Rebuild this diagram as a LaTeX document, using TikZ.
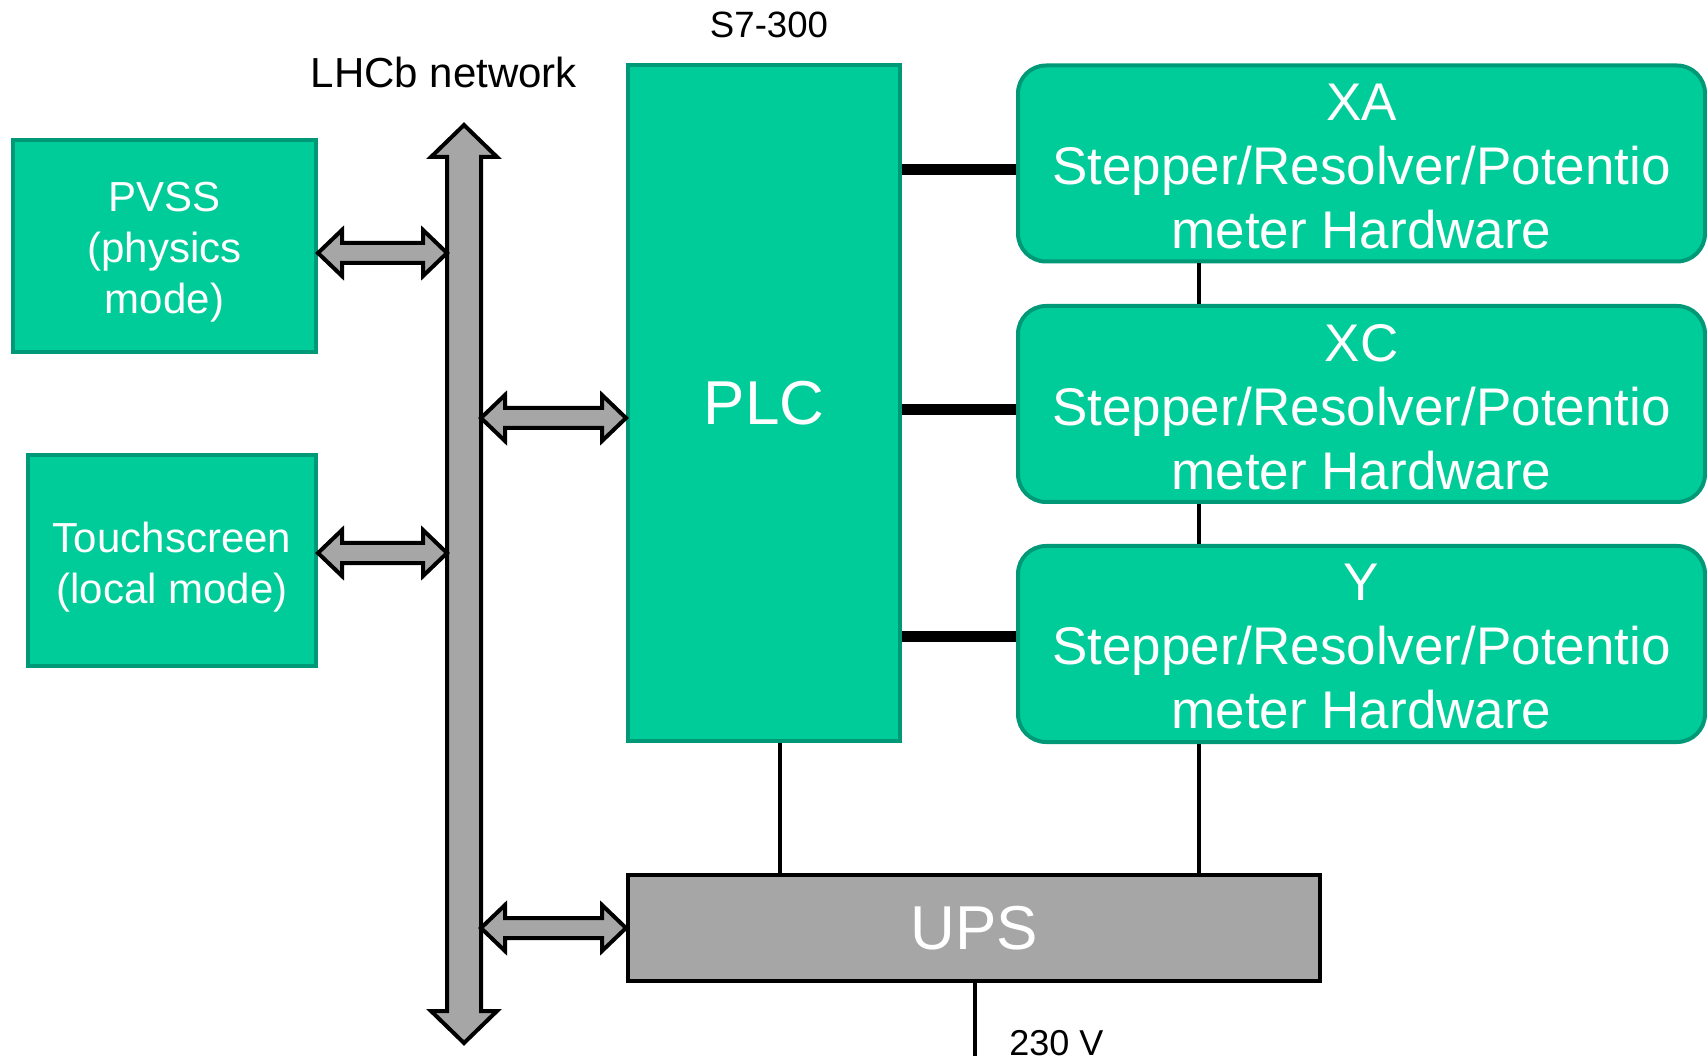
\documentclass[tikz,border=0pt]{standalone}
\usepackage{fontspec}
\setmainfont{Liberation Sans}
\usetikzlibrary{calc}
\definecolor{boxfill}{RGB}{0,204,153}
\definecolor{boxedge}{RGB}{0,153,119}
\definecolor{busgray}{RGB}{166,166,166}
\newcommand\blockdarrow[2]{%
  \draw[blockarrow] (#1) -- ($(#1)+(24,-23)$) -- ($(#1)+(24,-10)$) -- ($(#2)+(-24,-10)$) -- ($(#2)+(-24,-23)$) -- (#2)
    -- ($(#2)+(-24,23)$) -- ($(#2)+(-24,10)$) -- ($(#1)+(24,10)$) -- ($(#1)+(24,23)$) -- cycle;}
\begin{document}
\begin{tikzpicture}[x=0.5pt,y=-0.5pt,
  greenbox/.style={draw=boxedge, fill=boxfill, line width=2pt, text=white, align=center, inner sep=0pt},
  pctext/.style={text=white, align=center, inner sep=0pt, yshift=-3.25pt, font=\fontsize{21}{25.5}\selectfont},
  hwtext/.style={text=white, align=center, inner sep=0pt, yshift=-1.4pt, font=\fontsize{26.5}{32}\selectfont},
  hwbox/.style={greenbox, rounded corners=14pt, minimum width=343.5pt, minimum height=98pt},
  thickline/.style={line width=5.5pt},
  thinline/.style={line width=1.6pt},
  blockarrow/.style={draw=black, fill=busgray, line width=2pt, line join=miter},
  blacktext/.style={text=black, inner sep=0pt}]
\useasboundingbox (0,0) rectangle (1707,1058);

% boxes
\node[greenbox, minimum width=151.5pt, minimum height=106pt,
  label={[pctext]center:PVSS\\(physics\\mode)}] (pvss) at (164.5,246) {};
\node[greenbox, minimum width=144pt, minimum height=105.5pt,
  label={[pctext]center:Touchscreen\\(local mode)}] (touch) at (172,560.5) {};
\node[greenbox, minimum width=136pt, minimum height=338pt, font=\fontsize{31}{37}\selectfont] (plc) at (764,403) {PLC};
\node[hwbox, label={[hwtext]center:XA\\Stepper/Resolver/Potentio\\meter Hardware}] (xa) at (1361.5,163.5) {};
\node[hwbox, label={[hwtext]center:XC\\Stepper/Resolver/Potentio\\meter Hardware}] (xc) at (1361.5,404) {};
\node[hwbox, label={[hwtext]center:Y\\Stepper/Resolver/Potentio\\meter Hardware}] (y) at (1361.5,644) {};
\node[draw=black, fill=busgray, line width=2pt, text=white, inner sep=0pt, minimum width=346pt, minimum height=53pt, font=\fontsize{31}{37}\selectfont] (ups) at (974,928) {UPS};

% labels
\node[blacktext, anchor=base, font=\fontsize{18.3}{22}\selectfont] (s7) at (769,38) {S7-300};
\node[blacktext, anchor=base, font=\fontsize{21}{25}\selectfont] (lhcb) at (444,88) {LHCb network};
\node[blacktext, anchor=base west, font=\fontsize{18}{22}\selectfont] (volt) at (1009,1055) {230 V};

% bus
\coordinate (bustop) at (464,125);
\coordinate (busbot) at (464,1043);
\coordinate (busL) at (447,0);
\coordinate (busR) at (481,0);
\draw[blockarrow] (bustop) -- ++(33,32) -- ++(-16,0) -- ($(busbot)+(17,-32)$) -- ++(16,0) -- (busbot)
  -- ++(-33,-32) -- ++(16,0) -- ($(bustop)+(-17,32)$) -- ++(-16,0) -- cycle;

% double arrows
\path (pvss.east |- 0,253) coordinate (a1) (busL |- a1) coordinate (a2);
\blockdarrow{a1}{a2}
\path (touch.east |- 0,553) coordinate (b1) (busL |- b1) coordinate (b2);
\blockdarrow{b1}{b2}
\path (plc.west |- 0,418) coordinate (c2) (busR |- c2) coordinate (c1);
\blockdarrow{c1}{c2}
\path (ups.west) coordinate (d2) (busR |- d2) coordinate (d1);
\blockdarrow{d1}{d2}

% PLC to hardware
\draw[thickline] (plc.east |- 0,170) coordinate (e1) -- (xa.west |- e1);
\draw[thickline] (plc.east |- 0,410) coordinate (e2) -- (xc.west |- e2);
\draw[thickline] (plc.east |- 0,636) coordinate (e3) -- (y.west |- e3);

% power lines
\coordinate (hwx) at (1199,0);
\draw[thinline] (xa.south -| hwx) -- (xc.north -| hwx);
\draw[thinline] (xc.south -| hwx) -- (y.north -| hwx);
\draw[thinline] (y.south -| hwx) -- (ups.north -| hwx);
\draw[thinline] (plc.south -| 780,0) -- (ups.north -| 780,0);
\coordinate (mains) at (975,1056);
\draw[thinline] (ups.south -| mains) -- (mains);
\end{tikzpicture}
\end{document}
